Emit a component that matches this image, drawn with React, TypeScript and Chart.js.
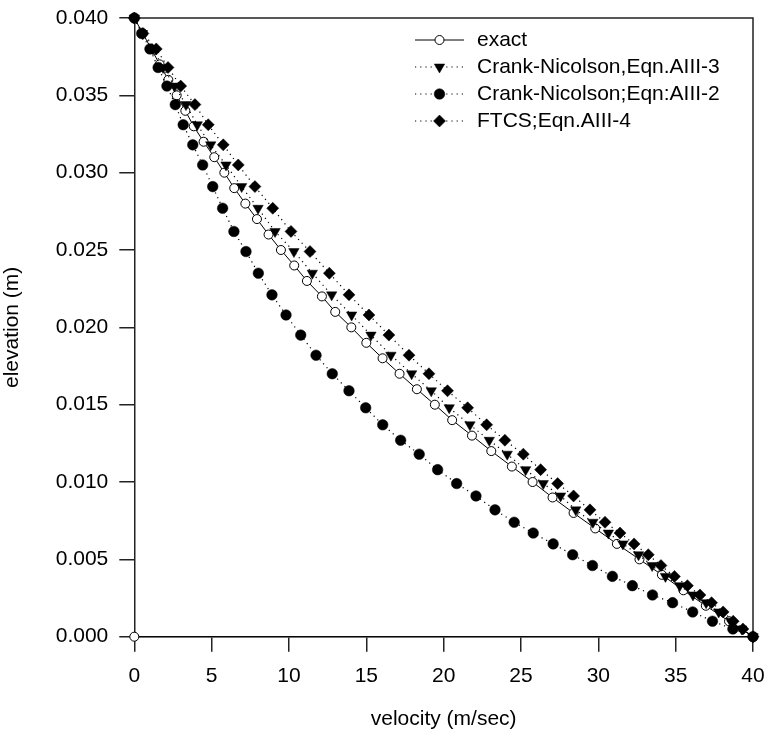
import { useEffect, useRef } from "react";
import { Chart, registerables } from "chart.js";
import { drawPoint } from "chart.js/helpers";

Chart.register(...registerables);

// Exact solution: elevation (m) and velocity (m/sec)
const exactElevation = [
  0.04, 0.039, 0.038, 0.037, 0.036, 0.035, 0.034, 0.033, 0.032, 0.031, 0.03,
  0.029, 0.028, 0.027, 0.026, 0.025, 0.024, 0.023, 0.022, 0.021, 0.02,
  0.019, 0.018, 0.017, 0.016, 0.015, 0.014, 0.013, 0.012, 0.011, 0.01,
  0.009, 0.008, 0.007, 0.006, 0.005, 0.004, 0.003, 0.002, 0.001, 0.0, 0.0,
];
const exactVelocity = [
  0, 0.55, 1.1, 1.64, 2.2, 2.74, 3.3, 3.84, 4.48, 5.17, 5.82,
  6.46, 7.18, 7.93, 8.68, 9.48, 10.34, 11.16, 12.13, 12.99, 14.03,
  15.0, 16.05, 17.15, 18.27, 19.43, 20.55, 21.83, 23.08, 24.41, 25.75,
  27.04, 28.4, 29.8, 31.2, 32.66, 34.11, 35.5, 36.95, 38.45, 40.0, 0,
];

// Numerical solutions share one set of elevations (m)
const numericElevation = [
  0.04, 0.039, 0.038, 0.0368, 0.0356, 0.0344, 0.0331, 0.0318, 0.0305, 0.0291,
  0.0277, 0.0262, 0.0249, 0.0235, 0.0221, 0.0208, 0.0195, 0.0182, 0.017, 0.0159,
  0.0148, 0.0137, 0.0127, 0.0118, 0.0108, 0.0099, 0.0091, 0.0082, 0.0074, 0.0067,
  0.006, 0.0053, 0.0046, 0.0039, 0.0033, 0.0027, 0.0022, 0.0016, 0.001, 0.0005, 0.0,
];
// Crank-Nicolson, Eqn. AIII-3 velocity (m/sec)
const cnAIII3Velocity = [
  0, 0.53, 1.21, 1.86, 2.6, 3.34, 4.07, 4.94, 5.93, 6.94,
  8.0, 9.1, 10.32, 11.51, 12.76, 14.05, 15.3, 16.59, 17.93, 19.2,
  20.36, 21.7, 22.95, 24.11, 25.3, 26.44, 27.56, 28.54, 29.65, 30.65,
  31.59, 32.6, 33.48, 34.34, 35.26, 36.12, 36.97, 37.78, 38.56, 39.27, 40.0,
];
// Crank-Nicolson, Eqn. AIII-2 velocity (m/sec)
const cnAIII2Velocity = [
  0, 0.48, 1.01, 1.54, 2.11, 2.65, 3.16, 3.78, 4.42, 5.07,
  5.71, 6.44, 7.22, 8.02, 8.9, 9.81, 10.76, 11.75, 12.8, 13.88,
  14.96, 16.06, 17.22, 18.42, 19.61, 20.84, 22.09, 23.32, 24.56, 25.79,
  27.08, 28.34, 29.62, 30.91, 32.2, 33.5, 34.8, 36.1, 37.38, 38.7, 40.0,
];
// FTCS, Eqn. AIII-4 velocity (m/sec)
const ftcsVelocity = [
  0, 0.56, 1.42, 2.18, 3.0, 3.92, 4.78, 5.75, 6.72, 7.8,
  8.95, 10.13, 11.36, 12.61, 13.88, 15.17, 16.46, 17.76, 19.05, 20.25,
  21.55, 22.78, 23.96, 25.15, 26.27, 27.37, 28.4, 29.46, 30.43, 31.4,
  32.31, 33.23, 34.05, 34.92, 35.76, 36.57, 37.32, 38.07, 38.72, 39.35, 40.0,
];

const seriesLabels = [
  "exact",
  "Crank-Nicolson,Eqn.AIII-3",
  "Crank-Nicolson;Eqn:AIII-2",
  "FTCS;Eqn.AIII-4",
];

const FONT = '"Liberation Sans", Arial, Helvetica, sans-serif';
const INK = "#000";
const AXIS = "#222";

const toPoints = (xs: number[], ys: number[]) => xs.map((x, i) => ({ x, y: ys[i] }));

// Top and right edges of the plotting frame
const framePlugin = {
  id: "frame",
  beforeDatasetsDraw(chart: any) {
    const { ctx, chartArea } = chart;
    ctx.save();
    ctx.strokeStyle = AXIS;
    ctx.lineWidth = 1.5;
    ctx.beginPath();
    ctx.moveTo(chartArea.left, chartArea.top);
    ctx.lineTo(chartArea.right, chartArea.top);
    ctx.lineTo(chartArea.right, chartArea.bottom);
    ctx.stroke();
    ctx.restore();
  },
};

// Legend drawn inside the plot, upper right
const insetLegend = {
  id: "insetLegend",
  afterDraw(chart: any) {
    const { ctx } = chart;
    const rowY = [40, 67, 94, 121];
    const x0 = 415;
    const x1 = 464;
    const textX = 477;
    chart.data.datasets.forEach((ds: any, i: number) => {
      const y = rowY[i];
      ctx.save();
      ctx.strokeStyle = INK;
      ctx.lineWidth = ds.borderWidth;
      ctx.setLineDash(ds.borderDash || []);
      ctx.beginPath();
      ctx.moveTo(x0, y);
      ctx.lineTo(x1, y);
      ctx.stroke();
      ctx.setLineDash([]);
      ctx.fillStyle = ds.pointBackgroundColor;
      ctx.strokeStyle = ds.pointBorderColor;
      ctx.lineWidth = ds.pointBorderWidth;
      drawPoint(
        ctx,
        {
          pointStyle: ds.pointStyle,
          radius: ds.pointRadius,
          rotation: ds.pointRotation || 0,
          borderWidth: ds.pointBorderWidth,
        } as any,
        (x0 + x1) / 2,
        y
      );
      ctx.fillStyle = INK;
      ctx.font = `21px ${FONT}`;
      ctx.textAlign = "left";
      ctx.textBaseline = "middle";
      ctx.fillText(ds.label, textX, y);
      ctx.restore();
    });
  },
};

export default function App() {
  const canvasRef = useRef<HTMLCanvasElement>(null);

  useEffect(() => {
    const canvas = canvasRef.current;
    if (!canvas) return;
    const chart = new Chart(canvas, {
      type: "scatter",
      data: {
        datasets: [
          {
            label: seriesLabels[0],
            data: toPoints(exactVelocity, exactElevation),
            showLine: true,
            borderColor: INK,
            borderWidth: 1,
            pointStyle: "circle",
            pointRadius: 4.5,
            pointBackgroundColor: "#fff",
            pointBorderColor: INK,
            pointBorderWidth: 1,
            order: 4,
            clip: false,
          },
          {
            label: seriesLabels[1],
            data: toPoints(cnAIII3Velocity, numericElevation),
            showLine: true,
            borderColor: INK,
            borderWidth: 1.2,
            borderDash: [1.2, 4],
            pointStyle: "triangle",
            pointRotation: 180,
            pointRadius: 6,
            pointBackgroundColor: INK,
            pointBorderColor: INK,
            pointBorderWidth: 0.5,
            order: 3,
            clip: false,
          },
          {
            label: seriesLabels[2],
            data: toPoints(cnAIII2Velocity, numericElevation),
            showLine: true,
            borderColor: INK,
            borderWidth: 1.2,
            borderDash: [1.2, 4],
            pointStyle: "circle",
            pointRadius: 5.3,
            pointBackgroundColor: INK,
            pointBorderColor: INK,
            pointBorderWidth: 0.5,
            order: 2,
            clip: false,
          },
          {
            label: seriesLabels[3],
            data: toPoints(ftcsVelocity, numericElevation),
            showLine: true,
            borderColor: INK,
            borderWidth: 1.2,
            borderDash: [1.2, 4],
            pointStyle: "rectRot",
            pointRadius: 6,
            pointBackgroundColor: INK,
            pointBorderColor: INK,
            pointBorderWidth: 0.5,
            order: 1,
            clip: false,
          },
        ] as any,
      },
      options: {
        responsive: false,
        animation: false,
        layout: { padding: { left: 0, top: 18, right: 15, bottom: 0 } },
        plugins: {
          legend: { display: false },
          tooltip: { enabled: false },
        },
        scales: {
          x: {
            type: "linear",
            min: 0,
            max: 40,
            ticks: {
              stepSize: 5,
              padding: 12,
              color: INK,
              font: { family: FONT, size: 21 },
            },
            grid: {
              drawOnChartArea: false,
              drawTicks: true,
              tickLength: 15,
              tickColor: AXIS,
              lineWidth: 1.5,
            },
            border: { display: true, color: AXIS, width: 1.5 },
            title: {
              display: true,
              text: "velocity (m/sec)",
              color: INK,
              font: { family: FONT, size: 21 },
              padding: { top: 0, bottom: 1 },
            },
            afterFit: (scale: any) => {
              scale.height = 96.3;
              scale.paddingLeft = 0;
              scale.paddingRight = 0;
            },
          },
          y: {
            type: "linear",
            min: 0,
            max: 0.04,
            ticks: {
              stepSize: 0.005,
              padding: 11,
              color: INK,
              font: { family: FONT, size: 21 },
              callback: (v: any) => Number(v).toFixed(3),
            },
            grid: {
              drawOnChartArea: false,
              drawTicks: true,
              tickLength: 15,
              tickColor: AXIS,
              lineWidth: 1.5,
            },
            border: { display: true, color: AXIS, width: 1.5 },
            title: {
              display: true,
              text: "elevation (m)",
              color: INK,
              font: { family: FONT, size: 21 },
              padding: { top: 0, bottom: 0 },
            },
            afterFit: (scale: any) => {
              scale.width = 134.3;
              scale.paddingTop = 0;
              scale.paddingBottom = 0;
            },
          },
        },
      } as any,
      plugins: [framePlugin, insetLegend],
    });
    return () => chart.destroy();
  }, []);

  return (
    <div
      style={{
        position: "fixed",
        left: 0,
        top: 0,
        width: 768,
        height: 733,
        background: "#fff",
      }}
    >
      <canvas ref={canvasRef} width={768} height={733} />
    </div>
  );
}
